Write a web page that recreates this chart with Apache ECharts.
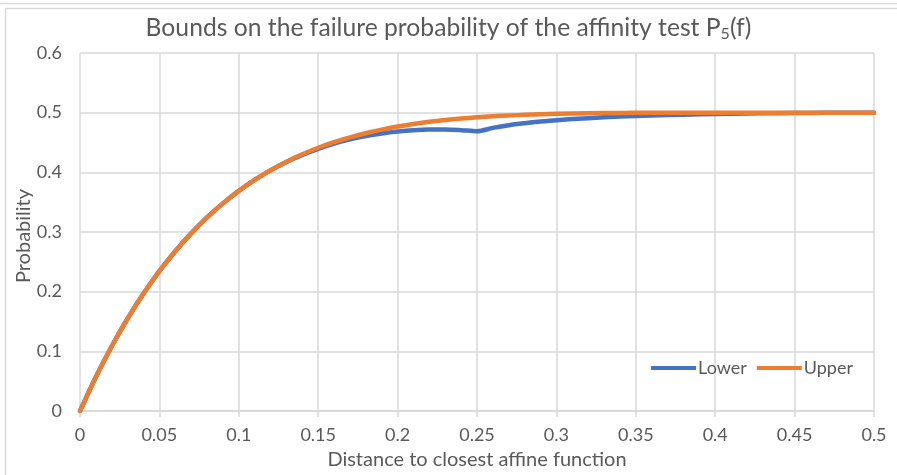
<!DOCTYPE html>
<html>
<head>
<meta charset="utf-8">
<script src="https://cdn.jsdelivr.net/npm/echarts@6/dist/echarts.min.js"></script>
<style>html,body{margin:0;padding:0;background:#fff;}#c{width:897px;height:475px;}</style>
</head>
<body>
<div id="c"></div>
<script>
const xs = [0,0.01,0.02,0.03,0.04,0.05,0.06,0.07,0.08,0.09,0.10,0.11,0.12,0.13,0.14,0.15,0.16,0.17,0.18,0.19,0.20,0.21,0.22,0.23,0.24,0.25,0.26,0.27,0.28,0.29,0.30,0.32,0.34,0.36,0.38,0.40,0.42,0.44,0.46,0.48,0.50];
const lowerVals = [0,0.0571,0.1086,0.1550,0.1968,0.2343,0.2678,0.2977,0.3244,0.3480,0.3689,0.3873,0.4033,0.4173,0.4292,0.4394,0.4481,0.4552,0.4609,0.4652,0.4684,0.4705,0.4716,0.4717,0.4707,0.4690,0.4745,0.4790,0.4823,0.4851,0.4874,0.4908,0.4934,0.4953,0.4967,0.4978,0.4986,0.4992,0.4996,0.4999,0.5000];
const upperVals = [0,0.0571,0.1086,0.1550,0.1968,0.2343,0.2678,0.2977,0.3244,0.3480,0.3689,0.3874,0.4036,0.4179,0.4303,0.4412,0.4505,0.4586,0.4656,0.4716,0.4767,0.4809,0.4846,0.4876,0.4901,0.4922,0.4939,0.4953,0.4964,0.4973,0.4980,0.4989,0.4995,0.4998,0.4999,0.5000,0.5000,0.5000,0.5000,0.5000,0.5000];
const seriesNames = ['Lower','Upper'];
const titleText = 'Bounds on the failure probability of the affinity test P';
const xName = 'Distance to closest affine function';
const yName = 'Probability';

const font = 'Lato, "Noto Sans", sans-serif';
const grey = '#595959';
const gridC = '#d9d9d9';
const chart = echarts.init(document.getElementById('c'));
chart.setOption({
  animation: false,
  backgroundColor: '#fff',
  title: {
    text: '{t|' + titleText + '}{s|5}{t|(f)}',
    left: 'center',
    top: 9,
    textStyle: {
      fontWeight: 'normal',
      rich: {
        t: {fontFamily: font, fontSize: 24.7, fontWeight: 'normal', color: grey},
        s: {fontFamily: font, fontSize: 16, fontWeight: 'normal', color: grey, verticalAlign: 'bottom', padding: [12,0,0,0]}
      }
    }
  },
  graphic: [
    {type: 'line', shape: {x1: 0, y1: 3.5, x2: 897, y2: 3.5}, style: {stroke: gridC, lineWidth: 1.5}, silent: true},
    {type: 'line', shape: {x1: 5.5, y1: 8.5, x2: 897, y2: 8.5}, style: {stroke: gridC, lineWidth: 1.5}, silent: true},
    {type: 'line', shape: {x1: 5.5, y1: 8.5, x2: 5.5, y2: 475}, style: {stroke: gridC, lineWidth: 1.5}, silent: true},
    {type: 'text', x: 24, y: 236, rotation: Math.PI / 2,
     style: {text: yName, fontFamily: font, fontSize: 20, fill: grey, align: 'center', verticalAlign: 'middle'}, silent: true}
  ],
  legend: {
    data: seriesNames,
    right: 39,
    top: 354,
    icon: 'rect',
    itemWidth: 45,
    itemHeight: 4,
    itemGap: 10,
    textStyle: {fontFamily: font, fontSize: 18, color: grey, padding: [0,0,0,-3]}
  },
  grid: {left: 80, right: 23, top: 53, bottom: 62, containLabel: false},
  xAxis: {
    type: 'value', min: 0, max: 0.5, interval: 0.05,
    name: xName, nameLocation: 'middle', nameGap: 39,
    nameTextStyle: {fontFamily: font, fontSize: 20, color: grey},
    axisLine: {show: true, lineStyle: {color: gridC, width: 1.5}},
    axisTick: {show: true, length: 6, lineStyle: {color: gridC, width: 1.5}},
    axisLabel: {fontFamily: font, fontSize: 18, color: grey, margin: 15},
    splitLine: {show: true, lineStyle: {color: gridC, width: 1.5}}
  },
  yAxis: {
    type: 'value', min: 0, max: 0.6, interval: 0.1,
    axisLine: {show: false},
    axisTick: {show: false},
    axisLabel: {fontFamily: font, fontSize: 18, color: grey, margin: 18},
    splitLine: {show: true, lineStyle: {color: gridC, width: 1.5}}
  },
  series: [
    {name: seriesNames[0], type: 'line', smooth: 0.3, showSymbol: false, data: xs.map((x,i)=>[x, lowerVals[i]]),
     lineStyle: {color: '#4472C4', width: 4.5, cap: 'round'}, itemStyle: {color: '#4472C4'}, z: 2},
    {name: seriesNames[1], type: 'line', smooth: 0.3, showSymbol: false, data: xs.map((x,i)=>[x, upperVals[i]]),
     lineStyle: {color: '#ED7D31', width: 4.5, cap: 'round'}, itemStyle: {color: '#ED7D31'}, z: 3}
  ]
});
</script>
</body>
</html>
